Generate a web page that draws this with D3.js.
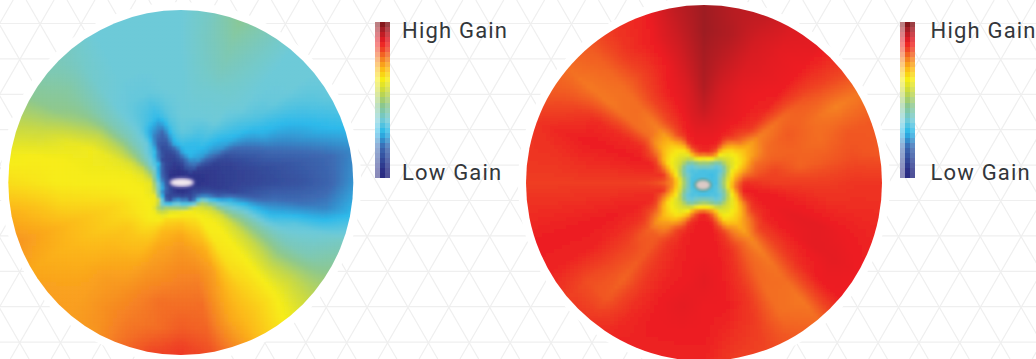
<!DOCTYPE html>
<html lang="en">
<head>
  <meta charset="UTF-8">
  <title>Antenna gain maps</title>
  <script src="https://d3js.org/d3.v7.min.js"></script>
  <style>
    html, body { margin: 0; padding: 0; background: #fff; overflow: hidden; }
    svg { display: block; }
    .label { font-family: Roboto, sans-serif; font-size: 22px; fill: #33363a; letter-spacing: 1.2px; }
  </style>
</head>
<body>
  <svg width="1036" height="359"></svg>

  <script>
    // gain is 0-100, one row per bearing (10 degree steps, clockwise from north),
    // one value per ring in ringFractions
    const ringFractions = [0.03, 0.07, 0.12, 0.17, 0.23, 0.3, 0.4, 0.55, 0.7, 0.85, 1];
    const bearings = d3.range(0, 360, 10);
    const labels = ["High Gain", "Low Gain"];

    const legendStops = [0, 5, 20, 29.5, 37, 47, 55, 63, 70, 76, 82, 87, 95, 100];
    const legendColors = ["#2a2a80", "#2b2f86", "#3b69b2", "#29b8ea", "#6cc9d8", "#8cc78c", "#c6d843", "#f7ec13",
                          "#fcb815", "#f58220", "#ef4423", "#ed1c24", "#a81c24", "#761317"];

    const leftGain = [
      [5, 6, 10, 25, 32, 36, 37, 37, 37, 37, 37],
      [5, 6, 15, 29, 31, 35, 37, 38, 39, 40, 40],
      [5, 7, 22, 30, 30, 33, 37, 38, 41, 43, 46],
      [5, 6, 20, 27, 30, 33, 37, 38, 39, 40, 41],
      [5, 8, 20, 25, 27, 29, 33, 37, 37, 37, 37],
      [5, 6, 8, 14, 20, 25, 29, 33, 36, 37, 37],
      [5, 6, 7, 8, 9, 12, 20, 28, 30, 33, 36],
      [5, 5, 6, 7, 8, 9, 13, 20, 24, 28, 31],
      [5, 5, 6, 7, 8, 9, 10, 13, 16, 19, 23],
      [5, 5, 6, 7, 8, 9, 10, 12, 14, 18, 25],
      [5, 6, 7, 8, 8, 10, 14, 20, 21, 23, 29],
      [5, 7, 9, 14, 17, 29, 32, 30, 35, 37, 40],
      [5, 7, 12, 26, 38, 42, 45, 43, 41, 42, 46],
      [5, 8, 18, 46, 55, 58, 57, 55, 52, 54, 53],
      [5, 7, 16, 55, 61, 63, 63, 63, 63, 63, 61],
      [5, 7, 12, 60, 63, 63, 64, 65, 67, 68, 67],
      [5, 6, 28, 62, 65, 68, 71, 73, 72, 72, 74],
      [5, 6, 28, 62, 66, 70, 73, 76, 78, 79, 81],
      [5, 6, 33, 61, 68, 72, 74, 76, 78, 80, 84],
      [5, 6, 35, 60, 67, 71, 73, 75, 78, 78, 82],
      [5, 7, 28, 58, 66, 70, 72, 74, 76, 77, 78],
      [5, 8, 14, 50, 62, 66, 69, 72, 74, 75, 74],
      [5, 9, 12, 40, 62, 64, 68, 71, 73, 73, 73],
      [5, 10, 15, 60, 63, 64, 68, 70, 71, 72, 73],
      [5, 11, 22, 62, 63, 64, 66, 68, 70, 71, 72],
      [5, 10, 30, 60, 63, 64, 66, 68, 70, 72, 74],
      [5, 9, 33, 60, 63, 63, 64, 65, 66, 69, 71],
      [5, 8, 30, 60, 62, 63, 63, 63, 63, 64, 65],
      [5, 8, 25, 53, 60, 62, 62, 62, 63, 63, 62],
      [5, 7, 20, 45, 54, 58, 60, 62, 60, 56, 54],
      [5, 6, 16, 35, 42, 48, 52, 54, 50, 47, 46],
      [5, 5, 10, 30, 36, 40, 42, 42, 43, 44, 42],
      [5, 5, 10, 12, 30, 36, 37, 37, 38, 39, 40],
      [5, 5, 9, 10, 12, 22, 33, 36, 37, 37, 37],
      [5, 5, 8, 10, 14, 18, 30, 36, 37, 37, 37],
      [5, 5, 9, 12, 28, 32, 35, 37, 37, 37, 37]
    ];

    const rightGain = [
      [33, 33, 52, 85, 87, 88, 91, 94, 95, 96, 96],
      [33, 33, 52, 85, 87, 88, 89, 90, 92, 94, 93],
      [33, 33, 48, 78, 86, 87, 88, 88, 89, 90, 92],
      [33, 32, 40, 60, 72, 84, 87, 87, 88, 88, 89],
      [33, 32, 35, 56, 64, 78, 84, 86, 87, 87, 88],
      [33, 32, 35, 56, 63, 70, 76, 78, 80, 82, 83],
      [33, 32, 40, 58, 64, 72, 78, 80, 78, 76, 77],
      [33, 33, 48, 64, 70, 78, 79, 79, 78, 80, 80],
      [33, 33, 52, 70, 78, 80, 82, 79, 80, 81, 80],
      [33, 33, 54, 74, 85, 84, 83, 83, 83, 84, 84],
      [33, 33, 52, 75, 87, 87, 87, 86, 85, 85, 85],
      [33, 34, 46, 64, 82, 86, 87, 88, 88, 87, 86],
      [33, 33, 40, 58, 70, 82, 86, 87, 88, 88, 87],
      [33, 33, 35, 56, 64, 74, 82, 83, 85, 87, 87],
      [33, 33, 35, 56, 63, 70, 75, 77, 78, 77, 78],
      [33, 33, 40, 58, 64, 76, 80, 79, 78, 78, 80],
      [33, 33, 48, 72, 78, 84, 85, 84, 84, 83, 82],
      [33, 33, 52, 82, 87, 87, 87, 87, 87, 85, 83],
      [33, 33, 54, 86, 87, 87, 87, 88, 87, 87, 86],
      [33, 33, 52, 84, 87, 87, 87, 87, 88, 87, 86],
      [33, 33, 48, 74, 84, 86, 86, 86, 87, 87, 86],
      [33, 33, 40, 60, 72, 82, 84, 84, 84, 85, 86],
      [33, 33, 35, 56, 63, 74, 80, 80, 79, 80, 84],
      [33, 33, 35, 56, 63, 70, 79, 82, 82, 81, 83],
      [33, 33, 40, 58, 64, 78, 84, 85, 86, 86, 86],
      [33, 33, 48, 66, 74, 85, 86, 87, 87, 87, 87],
      [33, 33, 52, 72, 84, 85, 85, 85, 85, 85, 85],
      [33, 33, 54, 74, 80, 82, 83, 83, 83, 83, 83],
      [33, 33, 52, 72, 84, 85, 85, 85, 85, 84, 84],
      [33, 33, 46, 62, 76, 86, 87, 87, 87, 86, 84],
      [33, 33, 40, 58, 64, 78, 85, 85, 85, 82, 80],
      [33, 33, 35, 56, 63, 70, 78, 78, 77, 77, 78],
      [33, 33, 35, 56, 63, 70, 76, 78, 78, 79, 80],
      [33, 33, 40, 58, 68, 80, 82, 83, 82, 84, 84],
      [33, 33, 48, 74, 85, 86, 86, 87, 86, 87, 86],
      [33, 33, 52, 84, 87, 88, 89, 89, 90, 91, 92]
    ];

    const svg = d3.select("svg");
    const width = +svg.attr("width");
    const height = +svg.attr("height");

    const colorScale = d3.scaleLinear().domain(legendStops).range(legendColors).clamp(true);
    const ringScale = d3.scaleLinear()
                        .domain(ringFractions)
                        .range(d3.range(ringFractions.length))
                        .clamp(true);

    const defs = svg.append("defs");
    defs.append("filter").attr("id", "soft")
        .attr("x", "-5%").attr("y", "-5%").attr("width", "110%").attr("height", "110%")
        .append("feGaussianBlur").attr("stdDeviation", 1);
    defs.append("filter").attr("id", "softer")
        .append("feGaussianBlur").attr("stdDeviation", 1.5);

    // Background lattice of pale triangles
    const rowStep = 35.4;
    const side = rowStep / (Math.sqrt(3) / 2);
    const lattice = svg.append("g").attr("stroke", "#efefef").attr("stroke-width", 1.2);
    d3.range(-1, 11).forEach(k => {
      const y = 23.5 + k * rowStep;
      lattice.append("line").attr("x1", 0).attr("x2", width).attr("y1", y).attr("y2", y);
    });
    d3.range(-12, 36).forEach(k => {
      const x = 408 + (k - 10) * side;
      [1, -1].forEach(dir => {
        lattice.append("line")
               .attr("x1", x + dir * (95 / Math.sqrt(3))).attr("y1", 0)
               .attr("x2", x - dir * ((height - 95) / Math.sqrt(3))).attr("y2", height);
      });
    });

    // Value at a polar position, read between the neighbouring table entries
    function gainAt(grid, bearing, fraction) {
      const a = ((bearing % 360) + 360) % 360 / 10;
      const a0 = Math.floor(a) % bearings.length;
      const a1 = (a0 + 1) % bearings.length;
      const ta = a - Math.floor(a);
      const r = ringScale(fraction);
      const r0 = Math.floor(r);
      const r1 = Math.min(r0 + 1, ringFractions.length - 1);
      const tr = r - r0;
      const inner = grid[a0][r0] * (1 - ta) + grid[a1][r0] * ta;
      const outer = grid[a0][r1] * (1 - ta) + grid[a1][r1] * ta;
      return inner * (1 - tr) + outer * tr;
    }

    function drawMap(id, grid, cx, cy, radius, hub) {
      const cell = 4;
      // white halo that hides the lattice
      svg.append("circle").attr("cx", cx).attr("cy", cy).attr("r", radius + 8).attr("fill", "#fff");

      defs.append("clipPath").attr("id", "clip-" + id)
          .append("circle").attr("cx", cx).attr("cy", cy).attr("r", radius);

      const cells = [];
      d3.range(cx - radius - cell, cx + radius + cell, cell).forEach(x => {
        d3.range(cy - radius - cell, cy + radius + cell, cell).forEach(y => {
          const dx = x + cell / 2 - cx;
          const dy = y + cell / 2 - cy;
          const dist = Math.hypot(dx, dy);
          if (dist > radius + cell * 2) return;
          const bearing = Math.atan2(dx, -dy) * 180 / Math.PI;
          cells.push({ x, y, gain: gainAt(grid, bearing, Math.min(dist / radius, 1)) });
        });
      });

      const g = svg.append("g").attr("clip-path", `url(#clip-${id})`);
      g.append("g").attr("filter", "url(#soft)")
       .selectAll("rect")
       .data(cells)
       .join("rect")
       .attr("x", d => d.x)
       .attr("y", d => d.y)
       .attr("width", cell + 0.5)
       .attr("height", cell + 0.5)
       .attr("fill", d => colorScale(d.gain));

      // the pale spot at the middle of each map
      g.append("ellipse")
       .attr("cx", cx + hub.dx).attr("cy", cy + hub.dy)
       .attr("rx", hub.rx + 2).attr("ry", hub.ry + 2)
       .attr("fill", hub.halo)
       .attr("filter", "url(#softer)");
      g.append("ellipse")
       .attr("cx", cx + hub.dx).attr("cy", cy + hub.dy)
       .attr("rx", hub.rx).attr("ry", hub.ry)
       .attr("fill", hub.fill)
       .attr("filter", "url(#softer)");
    }

    function drawLegend(x, textX) {
      const y = d3.scaleLinear().domain([0, 100]).range([178, 22]);
      const barWidth = 15;
      const stepSize = 100 / 31;
      const steps = d3.range(0, 100 - 0.01, stepSize);
      const cols = [
        { off: 0, w: barWidth / 3, opacity: 0.55 },
        { off: barWidth / 3, w: barWidth / 3, opacity: 1 },
        { off: 2 * barWidth / 3, w: barWidth / 3, opacity: 0.82 }
      ];
      const g = svg.append("g");
      // white backing so the lattice does not show through the pale columns
      g.append("rect").attr("x", x).attr("y", y(100)).attr("width", barWidth).attr("height", y(0) - y(100)).attr("fill", "#fff");
      cols.forEach(c => {
        g.append("g").selectAll("rect")
         .data(steps)
         .join("rect")
         .attr("x", x + c.off)
         .attr("y", d => y(d + stepSize))
         .attr("width", c.w)
         .attr("height", y(0) - y(stepSize))
         .attr("fill", d => colorScale(d + stepSize / 2))
         .attr("opacity", c.opacity)
         .attr("shape-rendering", "crispEdges");
      });
      svg.append("text").attr("class", "label").attr("x", textX).attr("y", 37.5).text(labels[0]);
      svg.append("text").attr("class", "label").attr("x", textX).attr("y", 180).text(labels[1]);
    }

    drawMap("left", leftGain, 180.8, 182.5, 172.5, { dx: 1, dy: 0, rx: 11, ry: 3.5, fill: "#f2e8ee", halo: "#7f78b8" });
    drawMap("right", rightGain, 704, 183, 178, { dx: -1, dy: 2, rx: 7, ry: 4.5, fill: "#dccac6", halo: "#5f9f9a" });
    drawLegend(375, 402);
    drawLegend(900, 930.5);
  </script>
</body>
</html>
